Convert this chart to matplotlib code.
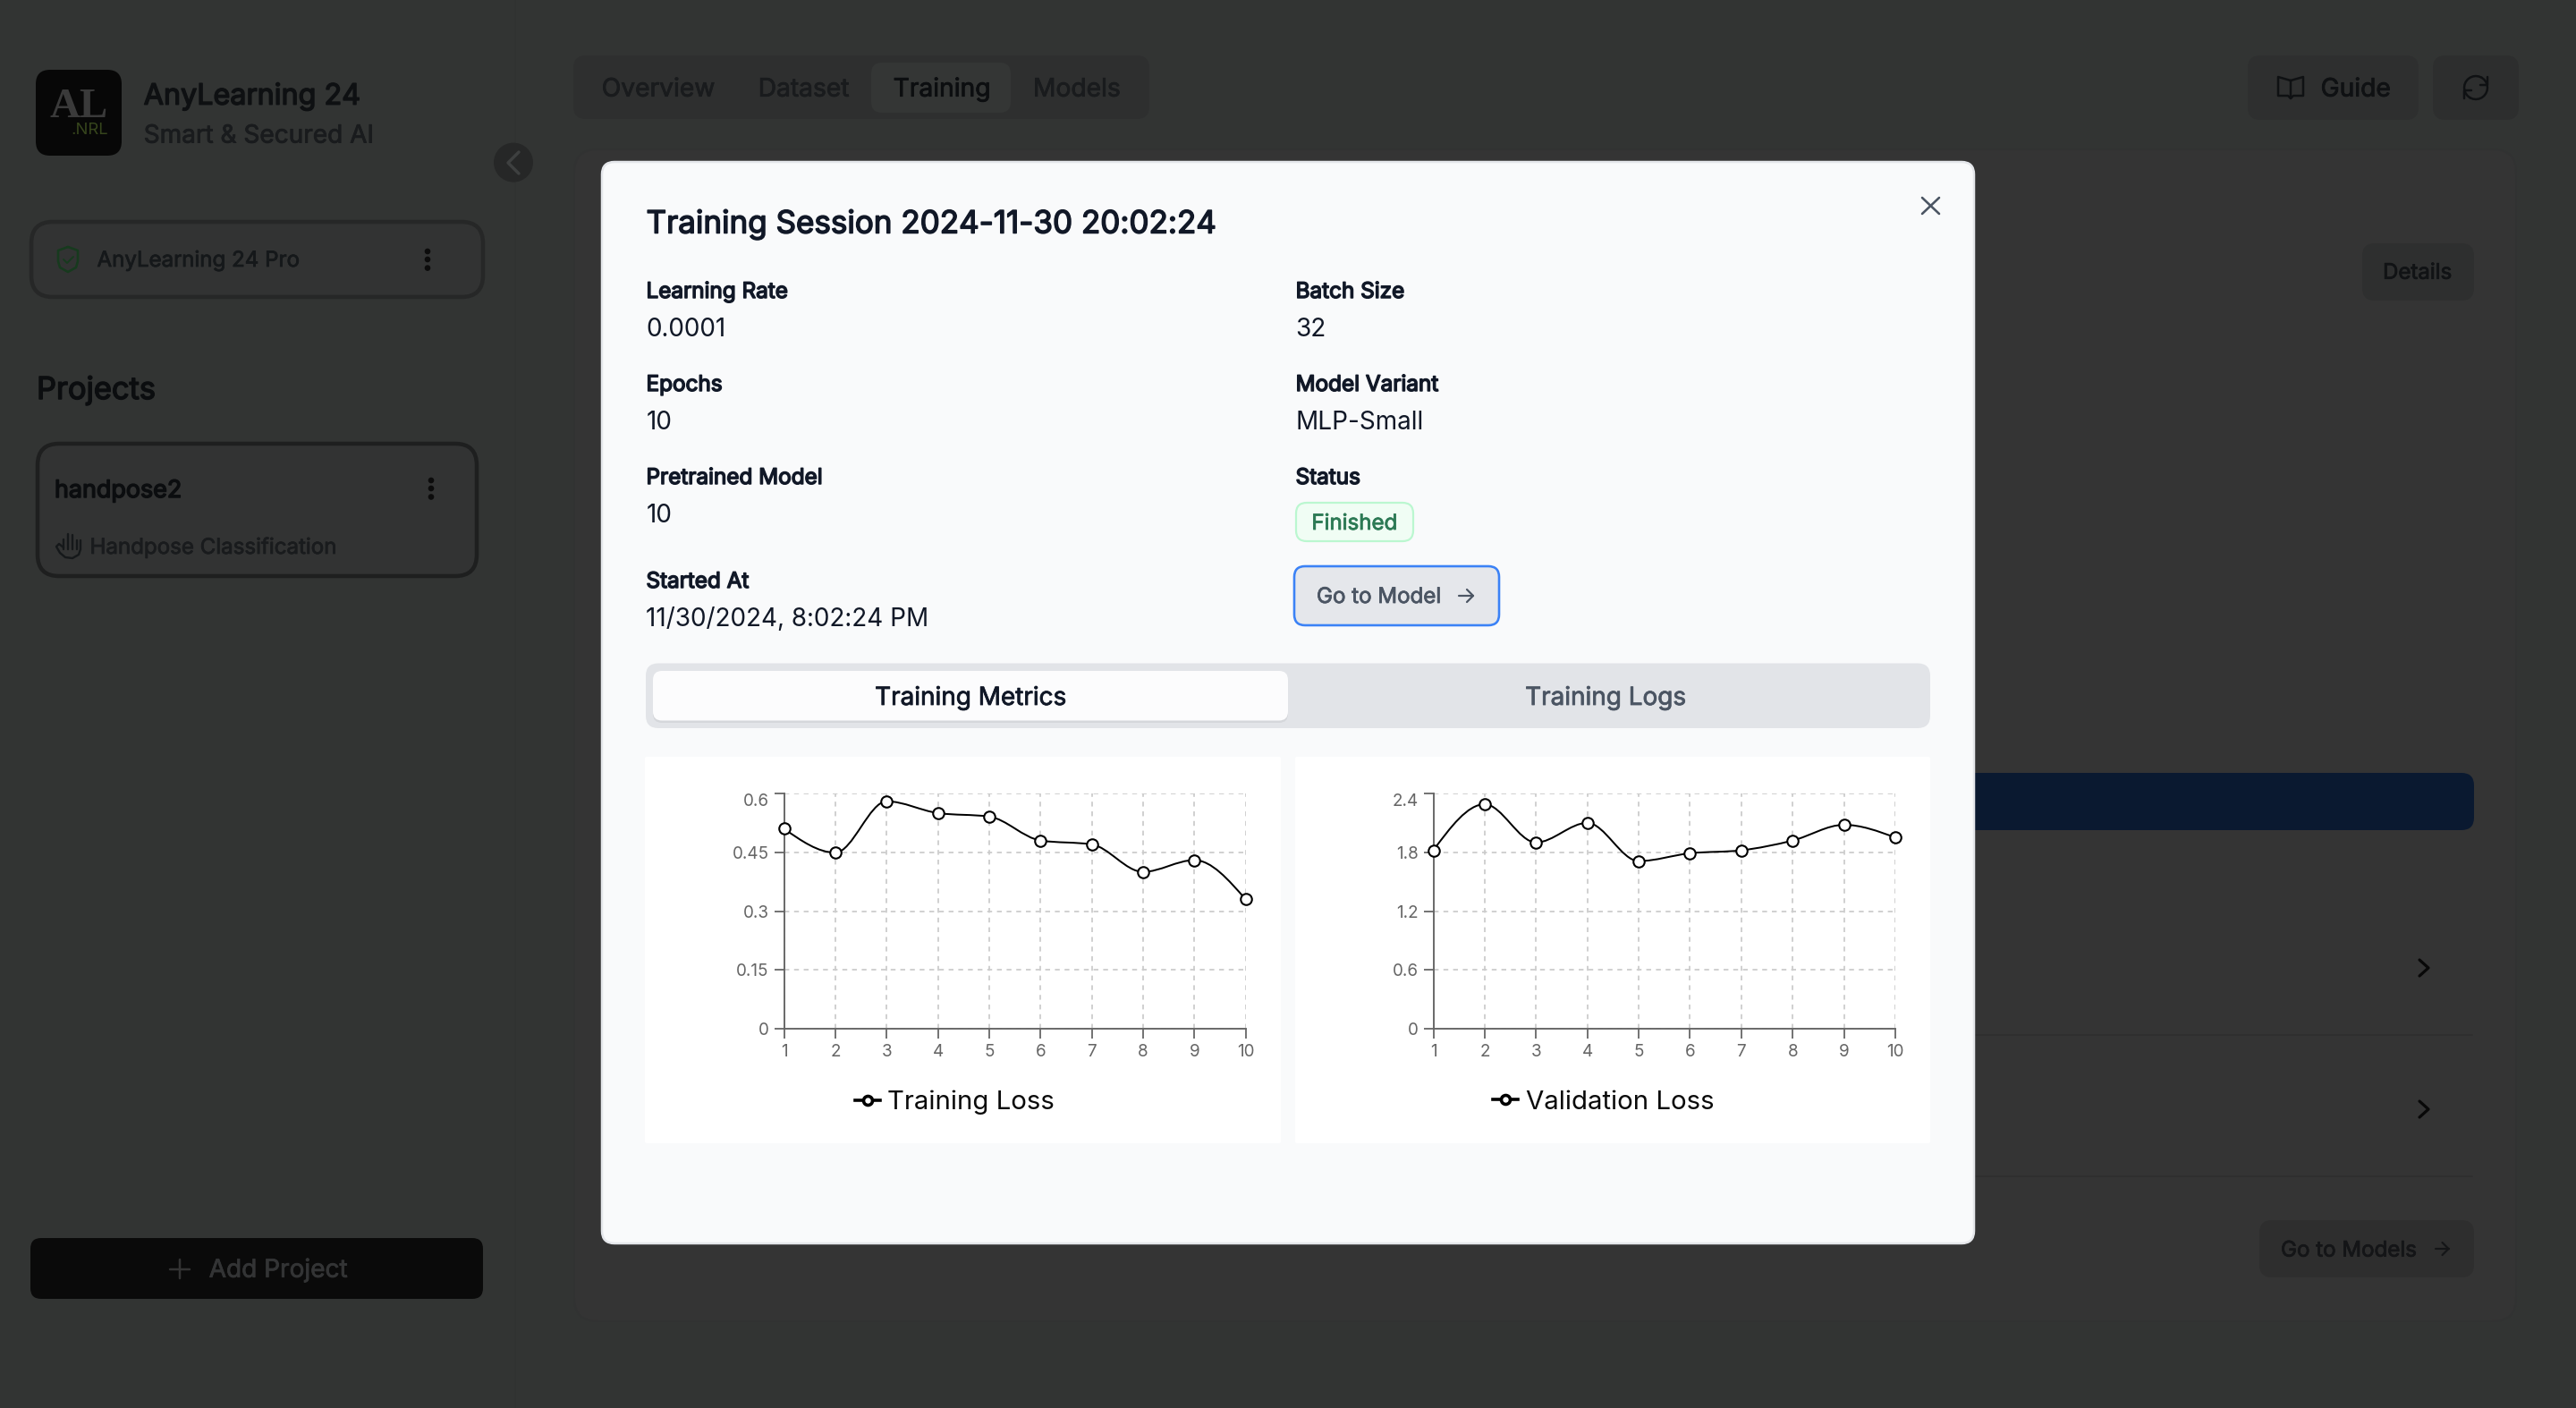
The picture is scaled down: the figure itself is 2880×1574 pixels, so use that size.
import numpy as np
import matplotlib
matplotlib.use("Agg")
import matplotlib.patheffects as pe
import matplotlib.pyplot as plt
from matplotlib.lines import Line2D
from matplotlib.patches import Circle, FancyBboxPatch, PathPatch
from matplotlib.path import Path

# --- Data ---
epochs = [1, 2, 3, 4, 5, 6, 7, 8, 9, 10]
train_loss = [0.51, 0.449, 0.58, 0.55, 0.541, 0.48, 0.47, 0.40, 0.43, 0.33]
val_loss = [1.82, 2.29, 1.90, 2.10, 1.71, 1.79, 1.82, 1.92, 2.08, 1.95]
train_ticks = [0, 0.15, 0.3, 0.45, 0.6]
train_tick_labels = ["0", "0.15", "0.3", "0.45", "0.6"]
val_ticks = [0, 0.6, 1.2, 1.8, 2.4]
val_tick_labels = ["0", "0.6", "1.2", "1.8", "2.4"]

nav_tabs = ["Overview", "Dataset", "Training", "Models"]
left_labels = ["Learning Rate", "Epochs", "Pretrained Model", "Started At"]
left_values = ["0.0001", "10", "10", "11/30/2024, 8:02:24 PM"]
right_labels = ["Batch Size", "Model Variant", "Status"]
right_values = ["32", "MLP-Small"]

# --- Constants ---
W, H = 2880, 1574
DPI = 200
PX = 72 / DPI
FONT = ["Inter", "DejaVu Sans"]
# sizes a bit under the css ones, the Inter here runs wider than the screenshot
SMALL, BASE, LARGE = 24.1, 27.9, 35.0
# Inter only comes in one weight here, so heavier text gets an outline
WEIGHT_STROKE = {400: 0.0, 500: 0.8, 600: 1.5}

plt.rcParams["font.family"] = FONT

fig = plt.figure(figsize=(W / DPI, H / DPI), dpi=DPI, facecolor="#323433")
ui = fig.add_axes([0, 0, 1, 1])
ui.set_xlim(0, W)
ui.set_ylim(H, 0)
ui.axis("off")


# --- Helpers ---
def box(x0, y0, x1, y1, color, r=12, edge="none", lw=0, z=1):
    ui.add_patch(FancyBboxPatch((x0, y0), x1 - x0, y1 - y0,
                                boxstyle=f"round,pad=0,rounding_size={r}",
                                fc=color, ec=edge, lw=lw * PX, zorder=z))


def label(x, y, s, size, color, weight=400, ha="left", z=3, family=None):
    t = ui.text(x, y, s, fontsize=size * PX, color=color, ha=ha, va="baseline",
                zorder=z, family=family or FONT, fontweight="bold" if family else "normal")
    extra = WEIGHT_STROKE[weight]
    if extra:
        t.set_path_effects([pe.withStroke(linewidth=extra * PX, foreground=color)])


def stroke(xs, ys, color, lw=2.5, z=3):
    ui.plot(xs, ys, color=color, lw=lw * PX, zorder=z,
            solid_capstyle="round", solid_joinstyle="round")


def dots(x, ys, color="#0c0c0c"):
    for y in ys:
        ui.add_patch(Circle((x, y), 3.3, fc=color, ec="none", zorder=3))


def arrow(x0, x1, y, color, z=3):
    stroke([x0, x1], [y, y], color, 2.2, z)
    stroke([x1 - 7, x1, x1 - 7], [y - 7, y, y + 7], color, 2.2, z)


def monotone_path(x, y):
    # same curve as d3 curveMonotoneX, one bezier per segment
    x = np.asarray(x, float)
    y = np.asarray(y, float)
    h = np.diff(x)
    s = np.diff(y) / h
    t = np.zeros(len(x))
    for i in range(1, len(x) - 1):
        p = (s[i - 1] * h[i] + s[i] * h[i - 1]) / (h[i - 1] + h[i])
        t[i] = (np.sign(s[i - 1]) + np.sign(s[i])) * min(abs(s[i - 1]), abs(s[i]), 0.5 * abs(p))
    t[0] = (3 * s[0] - t[1]) / 2
    t[-1] = (3 * s[-1] - t[-2]) / 2
    verts = [(x[0], y[0])]
    codes = [Path.MOVETO]
    for i in range(len(h)):
        d = h[i] / 3
        verts += [(x[i] + d, y[i] + d * t[i]), (x[i + 1] - d, y[i + 1] - d * t[i + 1]), (x[i + 1], y[i + 1])]
        codes += [Path.CURVE4] * 3
    return Path(verts, codes)


def line_chart(x0, x1, values, ticks, tick_labels, name, legend_x):
    y0, y1 = 887, 1150
    ax = fig.add_axes([x0 / W, 1 - y1 / H, (x1 - x0) / W, (y1 - y0) / H], zorder=5)
    ax.patch.set_alpha(0)
    ax.set_xlim(epochs[0], epochs[-1])
    ax.set_ylim(ticks[0], ticks[-1])
    ax.set_xticks(epochs)
    ax.set_yticks(ticks)
    ax.set_yticklabels(tick_labels)
    ax.get_yticklabels()[-1].set_va("top")
    ax.tick_params(length=11 * PX, width=1.8 * PX, color="#666666", labelcolor="#666666",
                   labelsize=18.8 * PX, pad=6 * PX)
    ax.grid(True, color="#cccccc", lw=1.8 * PX, linestyle=(0, (3, 3)))
    ax.set_axisbelow(True)
    for side in ("top", "right"):
        ax.spines[side].set_visible(False)
    for side in ("left", "bottom"):
        ax.spines[side].set_color("#666666")
        ax.spines[side].set_linewidth(1.9 * PX)
    ax.add_patch(PathPatch(monotone_path(epochs, values), fill=False, ec="black",
                           lw=2 * PX, zorder=4, clip_on=False))
    ax.plot(epochs, values, ls="none", marker="o", ms=12.5 * PX, mfc="white", mec="black",
            mew=2.1 * PX, zorder=5, clip_on=False)
    handle = Line2D([], [], color="black", lw=3.6 * PX, marker="o", ms=10 * PX, mfc="white",
                    mec="black", mew=3.6 * PX)
    ax.legend([handle], [name], loc="center", bbox_to_anchor=(legend_x, -0.312), frameon=False,
              fontsize=29.4 * PX, labelcolor="#0a0a0a", handlelength=0.95, handletextpad=0.3,
              borderpad=0, borderaxespad=0)


# --- Background page ---
stroke([576, 576], [0, H], "#303231", 1.5, 1)
box(642, 167, 2813, 1477, "#343434", r=26, edge="#313232", lw=2)
box(641, 62, 1285, 133, "#2e2f2f", r=14)
box(974, 70, 1130, 126, "#343635", r=12, z=2)
for name, x, c in zip(nav_tabs, [672.7, 847.7, 998.6, 1155], ["#191b1d", "#191b1d", "#0c0e10", "#191b1d"]):
    label(x, 107.7, name, 28.2, c, 500)

# right buttons
box(2513, 62, 2704, 134, "#2e2f2f", r=14)
label(2594.6, 107.7, "Guide", 28.2, "#0f1113", 500)
stroke([2561, 2561, 2547, 2547, 2558, 2561, 2564, 2575, 2575, 2561],
       [110, 90, 86, 107, 107, 110, 107, 107, 86, 90], "#0f1113", 2.5)
box(2720, 62, 2816, 134, "#2d2e2e", r=14)
ang = np.radians(np.arange(-60, 121, 15))
stroke(2768 + 13 * np.cos(ang), 98 + 13 * np.sin(ang), "#0f1113", 2.5)
stroke(2768 - 13 * np.cos(ang), 98 - 13 * np.sin(ang), "#0f1113", 2.5)
stroke([2781, 2781, 2773], [86, 95, 95], "#0f1113", 2.5)
stroke([2755, 2755, 2763], [110, 101, 101], "#0f1113", 2.5)
box(2641, 272, 2766, 336, "#2e2f2f", r=14)
label(2664, 311.7, "Details", SMALL, "#111315", 500)

box(1500, 864, 2766, 928, "#0a1930", r=14)
for y in (1156.5, 1314.7):
    stroke([1500, 2764], [y, y], "#2f2f2f", 2)
for y in (1082, 1240):
    stroke([2705, 2715, 2705], [y - 9, y, y + 9], "#080808", 3.2)
box(2526, 1364, 2766, 1428, "#2e2e2e", r=14)
label(2550, 1404.6, "Go to Models", SMALL, "#141517", 500)
arrow(2722.6, 2737.5, 1396, "#141517")

# --- Sidebar ---
box(40, 78, 136, 174, "#070707", r=16)
label(88, 130.6, "AL", 47, "#3a3a3a", ha="center", family="Liberation Serif")
label(121, 150, ".NRL", 18.5, "#36451c", ha="right")
label(160.7, 116.7, "AnyLearning 24", 32.3, "#0e1012", 600)
label(160.7, 159.6, "Smart & Secured AI", 28, "#191b1d", 500)
ui.add_patch(Circle((574, 181.6), 22, fc="#262727", ec="none", zorder=2))
stroke([580, 568, 580], [170, 182, 194], "#3e4040", 3.4)

box(35, 248, 540, 332, "#323333", r=24, edge="#262727", lw=4.5)
stroke([76, 87, 87, 85, 76, 67, 65, 65, 76], [276, 280, 292, 299, 304, 299, 292, 280, 276], "#173a1e", 2.6)
stroke([71, 75, 82], [290, 294, 287], "#173a1e", 2)
label(108.5, 298, "AnyLearning 24 Pro", SMALL, "#15181a", 500)
dots(478, [281, 290, 299.6])

label(41, 446, "Projects", 34.4, "#0b0d0f", 600)
box(42, 496, 533, 644, "#323333", r=24, edge="#1e1f1f", lw=4.5)
label(61, 556, "handpose2", 26.9, "#0b0d0f", 600)
dots(482, [537, 546, 555.5])
# hand icon
for fx, top in zip([71, 76, 81, 86], [603, 597, 598, 604]):
    stroke([fx, fx], [top, 614], "#15181a", 2.4)
stroke([71, 66, 63, 67, 73, 81, 88, 90, 90], [612, 608, 611, 618, 623, 624, 620, 614, 604], "#15181a", 2.4)
label(100.5, 619, "Handpose Classification", 24.1, "#191b1d", 500)

box(34, 1384, 540, 1452, "#0a0a0a", r=12)
stroke([190, 212], [1418.5, 1418.5], "#333333", 2.5)
stroke([201, 201], [1408, 1429], "#333333", 2.5)
label(233.7, 1427.7, "Add Project", 28, "#333435", 500)

# --- Modal ---
MZ = 5
box(673, 181, 2207, 1390, "#f9fafb", r=14, edge="#e5e7eb", lw=2.5, z=MZ)
label(722.5, 260.5, "Training Session 2024-11-30 20:02:24", LARGE, "#111827", 600, z=MZ + 1)
stroke([2149, 2168], [221, 239], "#4b5563", 2.6, MZ + 1)
stroke([2168, 2149], [221, 239], "#4b5563", 2.6, MZ + 1)

for name, val, y1, y2 in zip(left_labels, left_values, [333, 437, 541, 657], [376, 480, 584, 700]):
    label(722.5, y1, name, 24.3, "#111827", 600, z=MZ + 1)
    label(722.5, y2, val, BASE, "#111827", z=MZ + 1)
for name, y1 in zip(right_labels, [333, 437, 541]):
    label(1448.6, y1, name, 24.3, "#111827", 600, z=MZ + 1)
for val, y2 in zip(right_values, [376, 480]):
    label(1448.6, y2, val, BASE, "#111827", z=MZ + 1)

box(1449, 562, 1580, 605, "#f0fdf4", r=12, edge="#bbf7d0", lw=2.2, z=MZ + 1)
label(1466.4, 592, "Finished", SMALL, "#2d7a55", 500, z=MZ + 2)
box(1447, 633, 1676, 699, "#e5e7eb", r=12, edge="#3b82f6", lw=2.6, z=MZ + 1)
label(1472, 674, "Go to Model", SMALL, "#4b5563", 500, z=MZ + 2)
arrow(1631, 1647, 666, "#4b5563", MZ + 2)

box(722, 741.5, 2158, 814, "#e2e4e8", r=14, z=MZ + 1)
box(730, 752, 1440, 808, "#d5d7db", r=10, z=MZ + 1)
box(730, 750, 1440, 805.5, "#fcfcfd", r=10, z=MZ + 2)
label(1085, 788, "Training Metrics", BASE, "#111827", 500, ha="center", z=MZ + 3)
label(1795, 788, "Training Logs", BASE, "#4b5563", 500, ha="center", z=MZ + 3)

box(721, 846, 1432, 1278, "white", r=2, z=MZ + 1)
box(1448, 846, 2158, 1278, "white", r=2, z=MZ + 1)

# --- Charts ---
line_chart(876.6, 1392.6, train_loss, train_ticks, train_tick_labels, "Training Loss", 0.37)
line_chart(1602.5, 2119, val_loss, val_ticks, val_tick_labels, "Validation Loss", 0.369)

fig.savefig("out.png", dpi=DPI, facecolor=fig.get_facecolor())
